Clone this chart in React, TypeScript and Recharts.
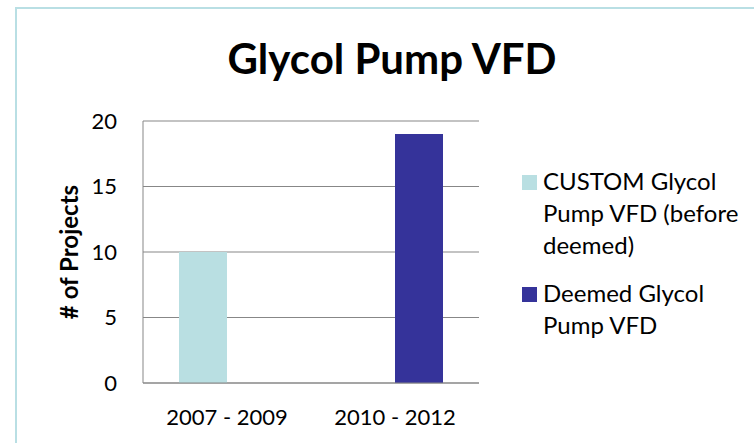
import { BarChart, Bar, XAxis, YAxis, CartesianGrid, Legend } from "recharts";

const categories = ["2007 - 2009", "2010 - 2012"];
const customValues = [10, 0];
const deemedValues = [0, 19];
const yTicks = [0, 5, 10, 15, 20];
const seriesNames = ["CUSTOM Glycol Pump VFD (before deemed)", "Deemed Glycol Pump VFD"];
const legendLines = [
  ["CUSTOM Glycol", "Pump VFD (before", "deemed)"],
  ["Deemed Glycol", "Pump VFD"],
];
const colors = ["#b9dfe2", "#35339a"];

const chartData = categories.map((name, i) => ({
  name,
  custom: customValues[i],
  deemed: deemedValues[i],
}));

const FONT = "Lato, 'DejaVu Sans', sans-serif";

const LegendContent = ({ payload }: any) => (
  <div style={{ fontFamily: FONT, fontSize: 24, lineHeight: "32px", color: "#000" }}>
    {(payload || []).map((entry: any, i: number) => (
      <div key={i} style={{ display: "flex", marginBottom: 16 }}>
        <div
          style={{
            width: 15,
            height: 15,
            marginTop: 10,
            marginRight: 6,
            background: entry.color,
            flex: "none",
          }}
        />
        <div>
          {(legendLines[i] || [entry.value]).map((line, j) => (
            <div key={j} style={{ whiteSpace: "nowrap" }}>{line}</div>
          ))}
        </div>
      </div>
    ))}
  </div>
);

export default function App() {
  return (
    <div
      style={{
        position: "absolute",
        left: 0,
        top: 0,
        width: 754,
        height: 443,
        overflow: "hidden",
        background: "#fff",
      }}
    >
      <div
        style={{
          position: "absolute",
          left: 15,
          top: 7,
          width: 800,
          height: 500,
          border: "2px solid #b9dfe4",
        }}
      />
      <div
        style={{
          position: "absolute",
          left: 392,
          top: 33,
          transform: "translateX(-50%)",
          fontFamily: FONT,
          fontWeight: 700,
          fontSize: 42,
          lineHeight: "50px",
          whiteSpace: "nowrap",
          color: "#000",
        }}
      >
        Glycol Pump VFD
      </div>
      <div style={{ position: "absolute", left: 0, top: 0 }}>
        <BarChart
          width={754}
          height={443}
          data={chartData}
          margin={{ top: 121, right: 275, bottom: 0, left: 0 }}
          barCategoryGap={36}
          barGap={0}
        >
          <CartesianGrid vertical={false} stroke="#878787" />
          <XAxis
            dataKey="name"
            height={60}
            tickLine={false}
            tickSize={0}
            tickMargin={26}
            axisLine={{ stroke: "#878787" }}
            tick={{ fill: "#000", fontFamily: FONT, fontSize: 22 }}
          />
          <YAxis
            width={143}
            domain={[0, 20]}
            ticks={yTicks}
            tickLine={false}
            tickSize={0}
            tickMargin={26}
            axisLine={{ stroke: "#878787" }}
            tick={{ fill: "#000", fontFamily: FONT, fontSize: 22 }}
            label={{
              value: "# of Projects",
              angle: -90,
              position: "insideLeft",
              offset: 69,
              style: {
                textAnchor: "middle",
                fontFamily: FONT,
                fontWeight: 700,
                fontSize: 24,
                fill: "#000",
              },
            }}
          />
          <Legend
            layout="horizontal"
            align="center"
            verticalAlign="middle"
            wrapperStyle={{ left: 522, top: 165, width: 232 }}
            content={<LegendContent />}
          />
          <Bar dataKey="custom" name={seriesNames[0]} fill={colors[0]} isAnimationActive={false} />
          <Bar dataKey="deemed" name={seriesNames[1]} fill={colors[1]} isAnimationActive={false} />
        </BarChart>
      </div>
    </div>
  );
}
